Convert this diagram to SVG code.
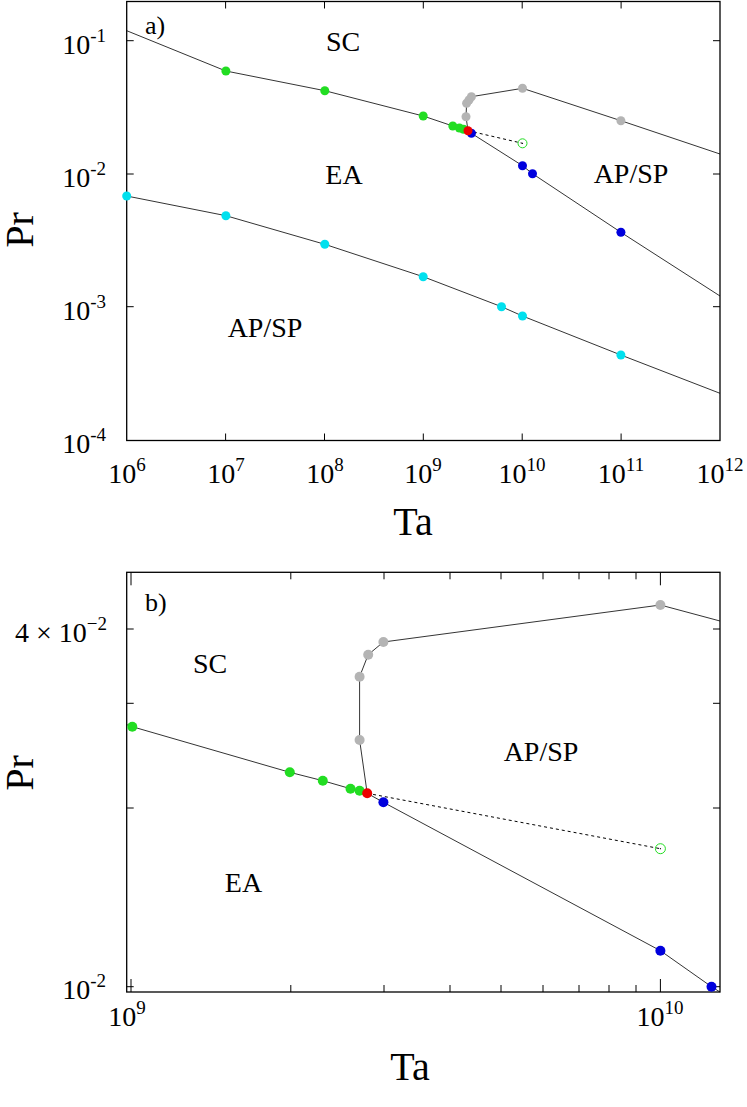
<svg xmlns="http://www.w3.org/2000/svg" width="747" height="1107" viewBox="0 0 747 1107">
<style>
text{font-family:"Liberation Serif",serif;fill:#000}
.t{font-size:28px}
.s{font-size:19px}
.lab{font-size:28px;text-anchor:middle}
.ax{font-size:40px;text-anchor:middle}
.frame{fill:none;stroke:#000;stroke-width:1.3}
.tick{stroke:#000;stroke-width:1}
.ln{fill:none;stroke:#000;stroke-width:0.8}
.dash{fill:none;stroke:#000;stroke-width:1;stroke-dasharray:3,3}
.g{fill:#22dd22}.c{fill:#00e0ee}.b{fill:#0000dd}.gr{fill:#b4b4b4}.r{fill:#ee0000}
.o{fill:none;stroke:#22dd22;stroke-width:1}
</style>
<g id="panelA">
<rect class="frame" x="126.7" y="1.5" width="593.3" height="439"/>
<g class="tick">
<path d="M225.6,440.5v-7M324.5,440.5v-7M423.3,440.5v-7M522.2,440.5v-7M621.1,440.5v-7M225.6,1.5v7M324.5,1.5v7M423.3,1.5v7M522.2,1.5v7M621.1,1.5v7M126.7,40.7h7M126.7,174h7M126.7,306.7h7M720,40.7h-7M720,174h-7M720,306.7h-7"/>
</g>
<g class="t" text-anchor="end">
<text x="106" y="54">10<tspan class="s" dy="-12">-1</tspan></text>
<text x="106" y="187">10<tspan class="s" dy="-12">-2</tspan></text>
<text x="106" y="320">10<tspan class="s" dy="-12">-3</tspan></text>
<text x="106" y="453">10<tspan class="s" dy="-12">-4</tspan></text>
</g>
<g class="t" text-anchor="middle">
<text x="127" y="483">10<tspan class="s" dy="-12">6</tspan></text>
<text x="226" y="483">10<tspan class="s" dy="-12">7</tspan></text>
<text x="325" y="483">10<tspan class="s" dy="-12">8</tspan></text>
<text x="423" y="483">10<tspan class="s" dy="-12">9</tspan></text>
<text x="522" y="483">10<tspan class="s" dy="-12">10</tspan></text>
<text x="621" y="483">10<tspan class="s" dy="-12">11</tspan></text>
<text x="720" y="483">10<tspan class="s" dy="-12">12</tspan></text>
</g>
<text class="ax" x="413" y="535">Ta</text>
<text class="ax" transform="translate(33,230) rotate(-90)">Pr</text>
<text x="145" y="34" style="font-size:26px">a)</text>
<text class="lab" x="343" y="51">SC</text>
<text class="lab" x="344" y="184">EA</text>
<text class="lab" x="631" y="183">AP/SP</text>
<text class="lab" x="265" y="337">AP/SP</text>
</g>
<g id="connectorsA">
<polyline class="ln" points="126.7,30.7 225.9,71 324.8,90.7 423.2,116 452.8,126 459.4,128 468,130.7 471.4,133.3 522.5,165.7 532.5,173.7 620.9,232.3 720,296"/>
<polyline class="ln" points="468,130.7 466,116.7 466.6,103.3 469,100 471.4,96.7 522.5,88.3 620.9,120.7 720,154"/>
<polyline class="ln" points="126.7,196 225.9,215.7 324.8,244.3 423.2,276.7 501.5,306.7 522.5,316 620.9,355 720,393.3"/>
<line class="dash" x1="468" y1="130.7" x2="522.5" y2="143.3"/>
</g>
<g id="pointsA">
<g class="gr"><circle cx="466" cy="116.7" r="4.5"/><circle cx="466.6" cy="103.3" r="4.5"/><circle cx="469" cy="100" r="4.5"/><circle cx="471.4" cy="96.7" r="4.5"/><circle cx="522.5" cy="88.3" r="4.5"/><circle cx="620.9" cy="120.7" r="4.5"/></g>
<g class="g"><circle cx="225.9" cy="71" r="4.5"/><circle cx="324.8" cy="90.7" r="4.5"/><circle cx="423.2" cy="116" r="4.5"/><circle cx="452.8" cy="126" r="4.5"/><circle cx="459.4" cy="128" r="4.5"/><circle cx="463.5" cy="129.3" r="4.5"/></g>
<g class="b"><circle cx="471.4" cy="133.3" r="4.5"/><circle cx="522.5" cy="165.7" r="4.5"/><circle cx="532.5" cy="173.7" r="4.5"/><circle cx="620.9" cy="232.3" r="4.5"/></g>
<circle class="r" cx="468" cy="130.7" r="4.5"/>
<circle class="o" cx="522.5" cy="143.3" r="4.5"/><circle cx="522.5" cy="143.3" r="0.6"/>
<g class="c"><circle cx="126.7" cy="196" r="4.5"/><circle cx="225.9" cy="215.7" r="4.5"/><circle cx="324.8" cy="244.3" r="4.5"/><circle cx="423.2" cy="276.7" r="4.5"/><circle cx="501.5" cy="306.7" r="4.5"/><circle cx="522.5" cy="316" r="4.5"/><circle cx="620.9" cy="355" r="4.5"/></g>
</g>
<g id="panelB">
<rect class="frame" x="126.7" y="572.3" width="593.3" height="419.7"/>
<g class="tick">
<path d="M290.8,992v-7M384,992v-7M450,992v-7M501,992v-7M543,992v-7M579,992v-7M609,992v-7M636,992v-7M660.4,992v-13M290.8,572.3v7M384,572.3v7M450,572.3v7M501,572.3v7M543,572.3v7M579,572.3v7M609,572.3v7M636,572.3v7M660.4,572.3v13M131,992v-13M131,572.3v13"/>
<path d="M126.7,629h7M126.7,703.3h7M126.7,808h7M126.7,986.7h7M720,629h-7M720,703.3h-7M720,808h-7M720,986.7h-7"/>
</g>
<g class="t" text-anchor="end">
<text x="107" y="642">4 × 10<tspan class="s" dy="-12">−2</tspan></text>
<text x="106" y="999">10<tspan class="s" dy="-12">-2</tspan></text>
</g>
<g class="t" text-anchor="middle">
<text x="127" y="1026">10<tspan class="s" dy="-12">9</tspan></text>
<text x="660" y="1026">10<tspan class="s" dy="-12">10</tspan></text>
</g>
<text class="ax" x="410" y="1080">Ta</text>
<text class="ax" transform="translate(33,773) rotate(-90)">Pr</text>
<text x="145" y="611" style="font-size:26px">b)</text>
<text class="lab" x="210" y="673">SC</text>
<text class="lab" x="541" y="761">AP/SP</text>
<text class="lab" x="243.5" y="892">EA</text>
</g>
<g id="connectorsB">
<polyline class="ln" points="126.7,724.7 132.3,726.7 289.8,772.3 322.8,780.7 350.5,788.7 359.6,790.7 367.2,793.3 383.4,802.3 660.4,950.7 711.5,986.7 720,992"/>
<polyline class="ln" points="367.2,793.3 359.6,740 359.6,676.7 368.2,654.7 383.4,642 660.4,605 720,621"/>
<line class="dash" x1="367.2" y1="793.3" x2="660.4" y2="848.7"/>
</g>
<g id="pointsB">
<g class="gr"><circle cx="359.6" cy="740" r="5"/><circle cx="359.6" cy="676.7" r="5"/><circle cx="368.2" cy="654.7" r="5"/><circle cx="383.4" cy="642" r="5"/><circle cx="660.4" cy="605" r="5"/></g>
<g class="g"><circle cx="132.3" cy="726.7" r="5"/><circle cx="289.8" cy="772.3" r="5"/><circle cx="322.8" cy="780.7" r="5"/><circle cx="350.5" cy="788.7" r="5"/><circle cx="359.6" cy="790.7" r="5"/></g>
<circle class="r" cx="367.2" cy="793.3" r="5"/>
<g class="b"><circle cx="383.4" cy="802.3" r="5"/><circle cx="660.4" cy="950.7" r="5"/><circle cx="711.5" cy="986.7" r="5"/></g>
<circle class="o" cx="660.4" cy="848.7" r="5"/><circle cx="660.4" cy="848.7" r="0.6"/>
</g>
</svg>
